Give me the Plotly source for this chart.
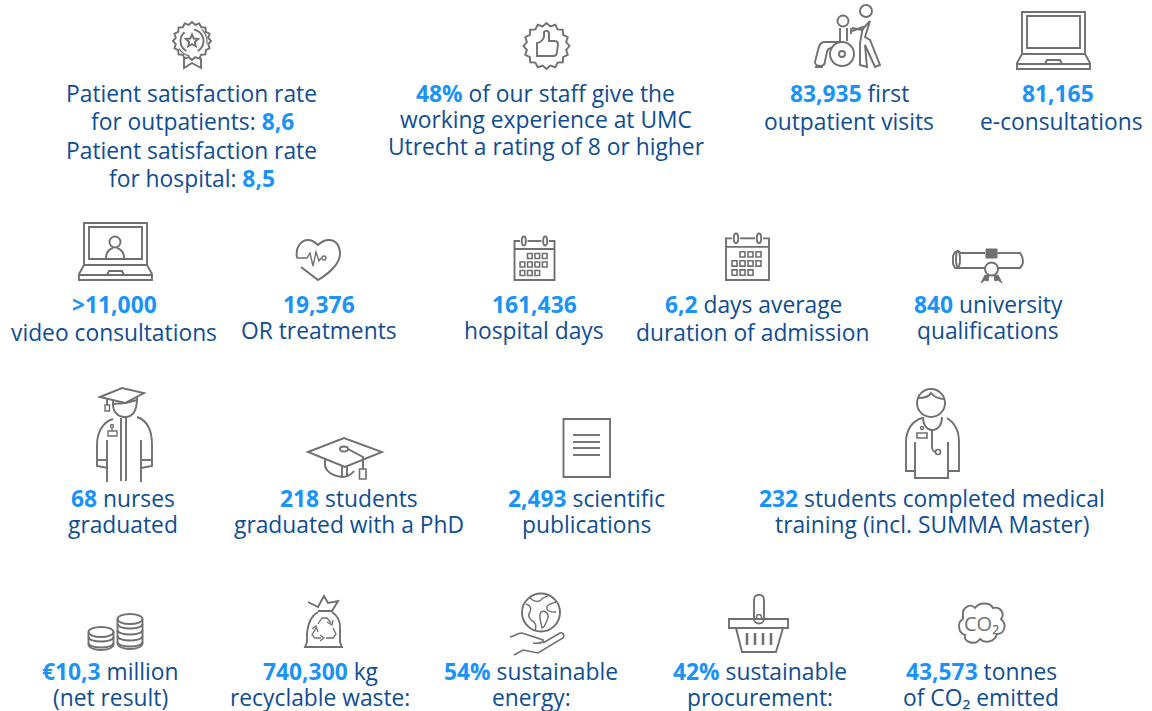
import math
import plotly.graph_objects as go

# ---- text content (one list per row of the infographic) ----
row1_lines = ["Patient satisfaction rate", "for outpatients: <b>8,6</b>", "Patient satisfaction rate", "for hospital: <b>8,5</b>",
              "<b>48%</b> of our staff give the", "working experience at UMC", "Utrecht a rating of 8 or higher",
              "<b>83,935</b> first", "outpatient visits", "<b>81,165</b>", "e-consultations"]
row2_lines = ["<b>>11,000</b>", "video consultations", "<b>19,376</b>", "OR treatments", "<b>161,436</b>", "hospital days",
              "<b>6,2</b> days average", "duration of admission", "<b>840</b> university", "qualifications"]
row3_lines = ["<b>68</b> nurses", "graduated", "<b>218</b> students", "graduated with a PhD", "<b>2,493</b> scientific", "publications",
              "<b>232</b> students completed medical", "training (incl. SUMMA Master)"]
row4_lines = ["<b>€10,3</b> million", "(net result)", "<b>740,300</b> kg", "recyclable waste:", "<b>54%</b> sustainable", "energy:",
              "<b>42%</b> sustainable", "procurement:", "<b>43,573</b> tonnes", "of CO₂ emitted"]

row1_pos = [(191, 93), (192, 121), (191, 150), (192, 178), (545.5, 93), (546, 119), (546, 146), (849, 93), (849, 121), (1058, 93), (1061, 121)]
row2_pos = [(114, 304), (114, 332), (319, 304), (319, 330), (534, 304), (534, 330), (753, 304), (752, 332), (988, 304), (988, 330)]
row3_pos = [(123, 498), (123, 524), (349, 498), (349, 524), (586, 498), (586, 524), (932, 498), (932, 524)]
row4_pos = [(110, 671), (110, 697), (320, 671), (320, 697), (531, 671), (531, 697), (760, 671), (760, 697), (981, 671), (981, 697)]

DARK = "#0f4d92"
BRIGHT = "#1a93f7"
GRAY = "#707070"
FONT = "Open Sans"
SIZE = 22.8


# ---- icon helpers; all geometry in page pixels ----
def circle(cx, cy, rx, ry=None):
    ry = rx if ry is None else ry
    k = 0.5523
    return (f"M{cx-rx},{cy} C{cx-rx},{cy-k*ry} {cx-k*rx},{cy-ry} {cx},{cy-ry} "
            f"C{cx+k*rx},{cy-ry} {cx+rx},{cy-k*ry} {cx+rx},{cy} "
            f"C{cx+rx},{cy+k*ry} {cx+k*rx},{cy+ry} {cx},{cy+ry} "
            f"C{cx-k*rx},{cy+ry} {cx-rx},{cy+k*ry} {cx-rx},{cy} Z")


def poly(pts, close=False):
    return "M" + " L".join(f"{x},{y}" for x, y in pts) + (" Z" if close else "")


def arc(cx, cy, r, a0, a1, n=14):
    return poly([(cx + r * math.cos(math.radians(a0 + (a1 - a0) * i / n)),
                  cy + r * math.sin(math.radians(a0 + (a1 - a0) * i / n))) for i in range(n + 1)])


def teeth(cx, cy, r0, r1, n):
    return poly([(cx + (r1 if i % 2 == 0 else r0) * math.cos(math.pi * i / n),
                  cy + (r1 if i % 2 == 0 else r0) * math.sin(math.pi * i / n)) for i in range(2 * n)], True)


def star(cx, cy, r0, r1):
    return poly([(cx + (r1 if i % 2 == 0 else r0) * math.cos(-math.pi / 2 + math.pi * i / 5),
                  cy + (r1 if i % 2 == 0 else r0) * math.sin(-math.pi / 2 + math.pi * i / 5)) for i in range(10)], True)


shapes = []


def line(path, w=1.9, fill=None, color=GRAY):
    shapes.append(dict(type="path", path=path, xref="x", yref="y", layer="above",
                       line=dict(color=color, width=w),
                       fillcolor=fill if fill else "rgba(0,0,0,0)"))


def rect(x0, y0, x1, y1, **kw):
    line(poly([(x0, y0), (x1, y0), (x1, y1), (x0, y1)], True), **kw)


def laptop(dx, dy):
    rect(1022 + dx, 12 + dy, 1085 + dx, 54 + dy)
    rect(1027 + dx, 16 + dy, 1080 + dx, 48 + dy)
    line(poly([(1022 + dx, 54 + dy), (1017 + dx, 63 + dy), (1017 + dx, 69 + dy), (1090 + dx, 69 + dy), (1090 + dx, 63 + dy), (1085 + dx, 54 + dy)]))
    line(poly([(1017 + dx, 64 + dy), (1090 + dx, 64 + dy)]))
    line(poly([(1045 + dx, 64 + dy), (1047 + dx, 60 + dy), (1060 + dx, 60 + dy), (1062 + dx, 64 + dy)]))


def calendar(x0, y0, x1, y1):
    s = (x1 - x0) / 43
    h = (y1 - y0) / 44
    line(poly([(x0 + 6 * s, y0 + 5 * h), (x0, y0 + 5 * h), (x0, y1), (x1, y1), (x1, y0 + 5 * h), (x1 - 6 * s, y0 + 5 * h)]))
    line(poly([(x0, y0 + 13 * h), (x1, y0 + 13 * h)]))
    line(poly([(x0 + 14 * s, y0 + 5 * h), (x1 - 14 * s, y0 + 5 * h)]))
    line(circle(x0 + 10 * s, y0 + 5 * h, 2.2 * s, 4.5 * h))
    line(circle(x1 - 10 * s, y0 + 5 * h, 2.2 * s, 4.5 * h))
    rows = [(0, [13, 21, 29]), (1, [5, 13, 21, 29]), (2, [5, 13, 21])]
    for r, cols in rows:
        for c in cols:
            a = x0 + (c + 1) * s
            b = y0 + (17.5 + r * 8.5) * h
            rect(a, b, a + 5 * s, b + 5 * h, w=1.6)


# rosette
line(teeth(192, 41, 16.5, 19, 16))
line(arc(192, 41, 11.5, -80, 60))
line(arc(192, 41, 11.5, 120, 230))
line(arc(192, 41, 15, -50, 10, 8), w=1.2)
line(arc(192, 41, 15, 100, 150, 8), w=1.2)
line(star(192, 41, 3, 6.5))
line(poly([(184, 58), (184, 68), (192, 63), (201, 68), (201, 58)]))

# thumb-up seal
line(teeth(546.5, 46, 20, 23, 16))
line("M537,43 L537,56 L553,56 C556,56 557,54 557,52 L558,44 C558,42 556,41 554,41 L549,41 "
     "L549,33 C549,31 545,30 544,32 L544,37 C543,40 540,43 537,43 Z")

# carer & wheelchair
line(circle(843, 21, 5.5))
line(circle(866, 11, 6))
line(circle(842, 54, 12))
line(circle(842, 54, 3))
line("M840,28 L840,42 L824,42 C820,42 819,46 818,50 L815,62 C815,65 818,66 820,66 C824,66 825,64 825,61 L827,52 C827,50 829,48 831,48")
line(poly([(847, 28), (847, 41)]))
line(poly([(815, 67), (823, 67)]))
line(poly([(852, 28), (862, 30), (870, 21)]))
line("M870,21 L865,37 L870,40 L880,65 L875,67 L865,45 L867,67 L860,65 L860,43 L863,27 L852,31")
line(poly([(851, 28), (851, 34)]))

# laptops
laptop(0, 0)
laptop(-938, 211)
line(circle(115, 242, 5.5))
line("M106,258 C106,251 110,249 113,248 M124,258 C124,251 120,249 117,248")

# heart
line("M297,258 C295,246 302,240 308,240 C313,240 316,243 318,245 C321,242 325,240 329,240 "
     "C337,240 340,247 340,254 C340,263 330,273 318,280 L301,267")
line(poly([(297, 258), (307, 258), (310, 253), (313, 266), (316, 252), (319, 261), (321, 258)]), w=1.4)
line(circle(324, 258, 2), w=1.4)

# calendars
calendar(514.5, 236, 554.5, 280)
calendar(726, 233, 769, 280)

# diploma
line(poly([(985, 253), (961, 253), (958, 251), (955, 252), (953, 256), (953, 264), (955, 268), (958, 268), (985, 268)]))
line(circle(958, 259, 2, 8))
line(poly([(997, 253), (1021, 253)]))
line("M1020,253 C1024,258 1024,264 1020,268 L997,268")
rect(986, 249, 997, 258, fill=GRAY, w=1)
line(circle(991.5, 269, 6.5))
line(poly([(985, 275), (981, 283), (985, 280), (988, 281), (989, 276)], True), fill=GRAY, w=1)
line(poly([(998, 275), (1002, 283), (998, 280), (995, 281), (994, 276)], True), fill=GRAY, w=1)

# graduate
line(poly([(100, 397), (122, 388), (144, 393), (125, 403)], True))
line(poly([(113, 400), (113, 404), (126, 403), (137, 400), (137, 396)]))
line("M113,404 C113,412 118,417 125,417 C132,417 137,412 137,398")
line(poly([(107, 398), (107, 405)]))
rect(105, 405, 109.5, 411, w=1.4)
line("M113,419 C103,422 97,432 97,445 L97,466 L108,468")
line("M137,417 C149,421 152,432 152,445 L152,466 L141,468")
line(poly([(97, 460), (107, 460)]))
line(poly([(152, 460), (142, 460)]))
line(poly([(107, 440), (107, 482)]))
line(poly([(141, 440), (141, 482)]))
line(poly([(121, 418), (121, 481)]))
line(poly([(126, 417), (126, 481)]))
rect(108, 431, 117, 436, w=1.4)
line(circle(112, 426, 1.5), w=1.4)
line(poly([(112, 427), (112, 431)]), w=1.4)

# mortarboard
line(poly([(308, 452), (344, 438), (382, 452), (345, 467)], True))
line(circle(344, 449, 4, 2.5))
line(poly([(348, 449), (363, 457), (363, 469)]))
rect(359.5, 469, 366, 479, w=1.6)
line("M325,458 L325,466 C327,473 335,476 342,477 C347,477 351,475 354,471")
line(poly([(342, 466), (342, 477)]))
line(poly([(347, 466), (347, 477)]))

# document
rect(563.5, 419, 610, 477)
for y_ in (435, 442, 448, 455):
    line(poly([(573, y_), (600, y_)]))

# doctor
line(circle(931, 403, 14, 14))
line("M918,398 C923,398 929,397 931,393 C934,397 940,399 945,399")
line("M922,418 C912,421 906,430 906,442 L906,471 L915,471")
line("M947,418 C955,423 959,430 959,442 L959,471 L948,471")
line(poly([(915, 442), (915, 478), (948, 478), (948, 442)]))
line("M923,417 C923,425 927,430 932,430 C938,430 942,425 942,417")
line("M932,430 L932,447 C932,450 934,452 936,452")
line(circle(938, 452, 2.5), w=1.6)
rect(917, 433, 927, 438, w=1.6)
line(circle(922, 428, 1.5), w=1.4)

# coins
for cx_, rx_, ys_ in [(101, 12.5, (632, 638, 644)), (130, 12.5, (619, 625, 631, 637, 643))]:
    top = ys_[0]
    bot = ys_[-1]
    line(circle(cx_, top, rx_, 5))
    for y_ in ys_[1:]:
        line(f"M{cx_-rx_},{y_-1} C{cx_-rx_},{y_+5} {cx_+rx_},{y_+5} {cx_+rx_},{y_-1}")
    line(f"M{cx_-rx_},{top} L{cx_-rx_},{bot} C{cx_-rx_},{bot+8} {cx_+rx_},{bot+8} {cx_+rx_},{bot} L{cx_+rx_},{top}")

# recycling bag
line("M318,612 C311,616 308,622 307,633 L307,642 L305,647 L342,647 L340,642 L340,627 C340,621 338,616 332,612")
line(poly([(308, 602), (318, 607), (324, 596), (328, 603), (338, 601), (332, 611), (318, 611)]))
line("M318,624 L322,618 L327,618 L331,623", w=1.3)
line("M316,628 L312,635 L315,638 L321,638", w=1.3)
line("M326,638 L333,638 L336,634 L333,628", w=1.3)
line(poly([(327, 622), (332, 625), (333, 620)]), w=1.3)
line(poly([(320, 635), (324, 638), (320, 641)]), w=1.3)
line(poly([(318, 632), (316, 626), (312, 629)]), w=1.3)

# globe in hand
line(circle(541, 612.5, 19))
line("M530,598 C534,602 538,602 541,600 C543,597 546,597 548,596 M526,604 C530,605 532,608 530,612 "
     "C527,616 530,620 534,622 C536,624 536,628 535,631 M556,602 C550,604 546,605 547,609 C549,613 553,612 556,612 "
     "M541,612 C545,610 549,613 548,618 C546,622 545,628 542,628 C541,622 538,616 541,612", w=1.4)
line("M510,637 C514,636 518,633 522,633 L528,635 L543,640 C544,642 540,644 533,643", w=1.6)
line("M543,643 L560,633 C563,632 565,635 563,638 L538,653 L523,650 L514,655", w=1.6)

# basket
rect(729, 619, 788, 628)
line(poly([(736, 628), (742, 652), (776, 652), (783, 628)]))
line("M754,619 L754,600 C754,593 764,593 764,600 L764,619 C764,625 754,625 754,619 Z")
line(circle(759, 617, 2.5), w=1.4)
for x_ in (747, 755, 763, 771):
    line(poly([(x_, 633), (x_, 645)]), w=2.6)

# cloud
line("M963,615 C962,607 971,603 975,608 C979,602 990,602 993,608 C1001,606 1005,614 1001,619 "
     "C1007,624 1005,634 997,634 C995,642 985,644 980,639 C975,646 963,642 965,635 C958,633 957,622 963,619 Z")

annotations = []
for lines_, pos_ in [(row1_lines, row1_pos), (row2_lines, row2_pos), (row3_lines, row3_pos), (row4_lines, row4_pos)]:
    for text_, (x_, y_) in zip(lines_, pos_):
        html = text_.replace("<b>", f"<span style='color:{BRIGHT}'><b>").replace("</b>", "</b></span>")
        annotations.append(dict(x=x_, y=y_, xref="x", yref="y", text=html, showarrow=False,
                                xanchor="center", yanchor="middle",
                                font=dict(family=FONT, size=SIZE, color=DARK)))
annotations.append(dict(x=981, y=623, xref="x", yref="y", text="CO₂", showarrow=False,
                        font=dict(family=FONT, size=20, color=GRAY)))

fig = go.Figure()
fig.update_layout(
    width=1152, height=711, autosize=False,
    margin=dict(l=0, r=0, t=0, b=0),
    paper_bgcolor="white", plot_bgcolor="white",
    xaxis=dict(range=[0, 1152], visible=False, fixedrange=True),
    yaxis=dict(range=[711, 0], visible=False, fixedrange=True),
    shapes=shapes, annotations=annotations, showlegend=False,
)
fig.write_html("out.html", config=dict(displayModeBar=False),
               post_script="document.body.style.margin='0';document.documentElement.style.overflow='hidden';")
